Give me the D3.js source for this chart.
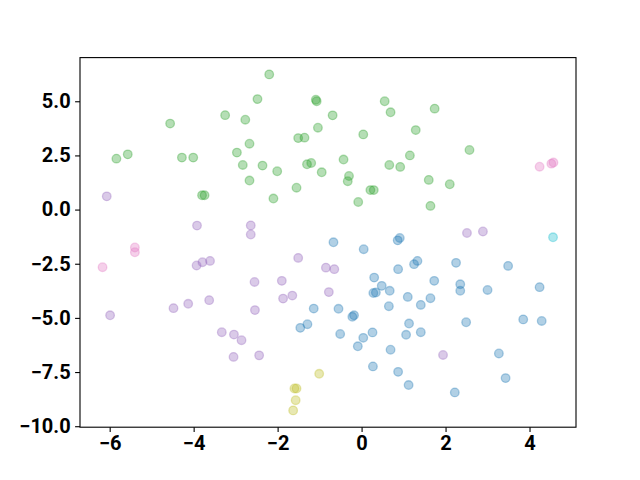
<!DOCTYPE html>
<html>
<head>
<meta charset="utf-8">
<script src="https://cdn.jsdelivr.net/npm/d3@7"></script>
<style>
	body { margin: 0; background: #fff; }
	.tick text { font-family: Roboto, sans-serif; font-weight: 700; }
</style>
</head>
<body>
<svg class="scatter-chart"></svg>
<script>
// points, one list per cluster
var bluePts = [
	[-0.67, -1.51], [0.05, -1.83], [0.86, -1.42], [0.91, -1.31], [0.87, -2.75],
	[0.30, -3.14], [0.48, -3.52], [0.67, -3.75], [0.28, -3.85], [0.34, -3.83],
	[1.10, -4.03], [0.65, -4.46], [-1.14, -4.57], [-0.55, -4.58], [-0.18, -4.88],
	[-0.22, -4.95], [-1.29, -5.29], [-1.46, -5.46], [-0.51, -5.74], [0.04, -5.92],
	[0.26, -5.67], [-0.09, -6.31], [0.69, -6.47], [1.13, -5.26], [1.06, -5.78],
	[0.27, -7.24], [0.87, -7.49], [1.12, -8.10], [1.25, -2.52], [1.33, -2.37],
	[2.25, -2.46], [3.49, -2.60], [1.73, -3.29], [2.35, -3.45], [2.35, -3.75],
	[3.00, -3.71], [4.24, -3.58], [1.64, -4.09], [1.41, -4.40], [2.49, -5.20],
	[3.85, -5.07], [4.29, -5.14], [1.41, -5.66], [3.27, -6.64], [3.43, -7.78],
	[2.22, -8.44]
];
var greenPts = [
	[-4.56, 3.97], [-3.25, 4.36], [-2.77, 4.15], [-2.67, 3.04], [-2.97, 2.63],
	[-2.83, 2.06], [-2.67, 1.34], [-5.84, 2.35], [-5.57, 2.55], [-4.28, 2.40],
	[-4.01, 2.40], [-3.80, 0.66], [-3.74, 0.66], [-2.20, 6.24], [-2.48, 5.10],
	[-1.09, 5.07], [-1.07, 5.00], [-0.69, 4.35], [0.55, 5.00], [0.69, 4.49],
	[-1.04, 3.78], [-1.51, 3.30], [-1.36, 3.32], [0.04, 3.47], [-2.36, 2.03],
	[-2.01, 1.77], [-1.30, 2.09], [-1.20, 2.15], [-0.95, 1.72], [-0.43, 2.31],
	[-0.30, 1.55], [-0.33, 1.31], [0.66, 2.06], [0.92, 1.97], [1.15, 2.50],
	[-1.55, 1.01], [-2.10, 0.51], [0.21, 0.90], [0.29, 0.90], [-0.08, 0.35],
	[1.74, 4.66], [1.29, 3.67], [2.57, 2.75], [1.60, 1.37], [2.10, 1.17],
	[1.64, 0.17]
];
var purplePts = [
	[-6.07, 0.61], [-3.92, -0.74], [-2.64, -0.73], [-2.64, -1.15], [2.51, -1.08],
	[2.89, -1.01], [-3.93, -2.58], [-3.79, -2.43], [-3.61, -2.37], [-5.99, -4.88],
	[-4.48, -4.55], [-4.13, -4.35], [-3.63, -4.18], [-3.33, -5.66], [-3.04, -5.77],
	[-2.86, -6.03], [-3.05, -6.80], [-1.51, -2.23], [-0.85, -2.68], [-0.65, -2.75],
	[-2.55, -3.34], [-1.90, -3.29], [-1.87, -4.11], [-1.65, -3.97], [-0.78, -3.81],
	[-2.54, -4.64], [-2.44, -6.73], [1.94, -6.71]
];
var pinkPts = [[-5.40, -1.75], [-5.40, -1.97], [-6.17, -2.66], [4.24, 1.98], [4.52, 2.12], [4.57, 2.17]];
var olivePts = [[-1.01, -7.58], [-1.60, -8.26], [-1.55, -8.26], [-1.57, -8.80], [-1.63, -9.27]];
var cyanPts = [[4.56, -1.28]];

var xTicks = [-6, -4, -2, 0, 2, 4];
var yTicks = [-10, -7.5, -5, -2.5, 0, 2.5, 5];

var groups = [
	{ color: '#1f77b4', pts: bluePts },
	{ color: '#2ca02c', pts: greenPts },
	{ color: '#9467bd', pts: purplePts },
	{ color: '#e377c2', pts: pinkPts },
	{ color: '#bcbd22', pts: olivePts },
	{ color: '#17becf', pts: cyanPts }
];

var W = 640, H = 480;
var margin = {top: 57.6, right: 64, bottom: 52.8, left: 80};
var w = W - margin.left - margin.right,
    h = H - margin.top - margin.bottom;

var all = [];
groups.forEach(function(g) { all = all.concat(g.pts) });

function padded(ext) {
	var p = (ext[1] - ext[0]) * 0.05;
	return [ext[0] - p, ext[1] + p];
}

var x = d3.scaleLinear()
	.domain(padded(d3.extent(all, function(d) { return d[0] })))
	.range([0, w]);
var y = d3.scaleLinear()
	.domain(padded(d3.extent(all, function(d) { return d[1] })))
	.range([h, 0]);

var svg = d3.select('.scatter-chart')
	.attr('width', W)
	.attr('height', H)
  .append('g')
    .attr('transform', 'translate(' + margin.left + ',' + margin.top + ')');

var fmtX = function(d) { return d3.format('d')(d).replace('-', '\u2212') };
var fmtY = function(d) { return d3.format('.1f')(d).replace('-', '\u2212') };

groups.forEach(function(g) {
	svg.append('g').selectAll('circle')
		.data(g.pts)
	  .enter().append('circle')
		.attr('cx', function(d) { return x(d[0]) })
		.attr('cy', function(d) { return y(d[1]) })
		.attr('r', 4.3)
		.attr('fill', g.color)
		.attr('fill-opacity', 0.35)
		.attr('stroke', g.color)
		.attr('stroke-opacity', 0.35)
		.attr('stroke-width', 1.3);
});

var xAxis = svg.append('g')
	.attr('transform', 'translate(0,' + h + ')')
	.call(d3.axisBottom(x).tickValues(xTicks).tickFormat(fmtX).tickSize(4.9).tickPadding(4).tickSizeOuter(0));
var yAxis = svg.append('g')
	.call(d3.axisLeft(y).tickValues(yTicks).tickFormat(fmtY).tickSize(4.9).tickPadding(4.5).tickSizeOuter(0));

[xAxis, yAxis].forEach(function(a) {
	a.select('.domain').remove();
	a.selectAll('.tick line').attr('stroke', '#000').attr('stroke-width', 1.1);
	a.selectAll('.tick text').attr('fill', '#000').style('font-size', '20px');
});

svg.append('rect')
	.attr('width', w)
	.attr('height', h)
	.attr('fill', 'none')
	.attr('stroke', '#000')
	.attr('stroke-width', 1.1);
</script>
</body>
</html>
